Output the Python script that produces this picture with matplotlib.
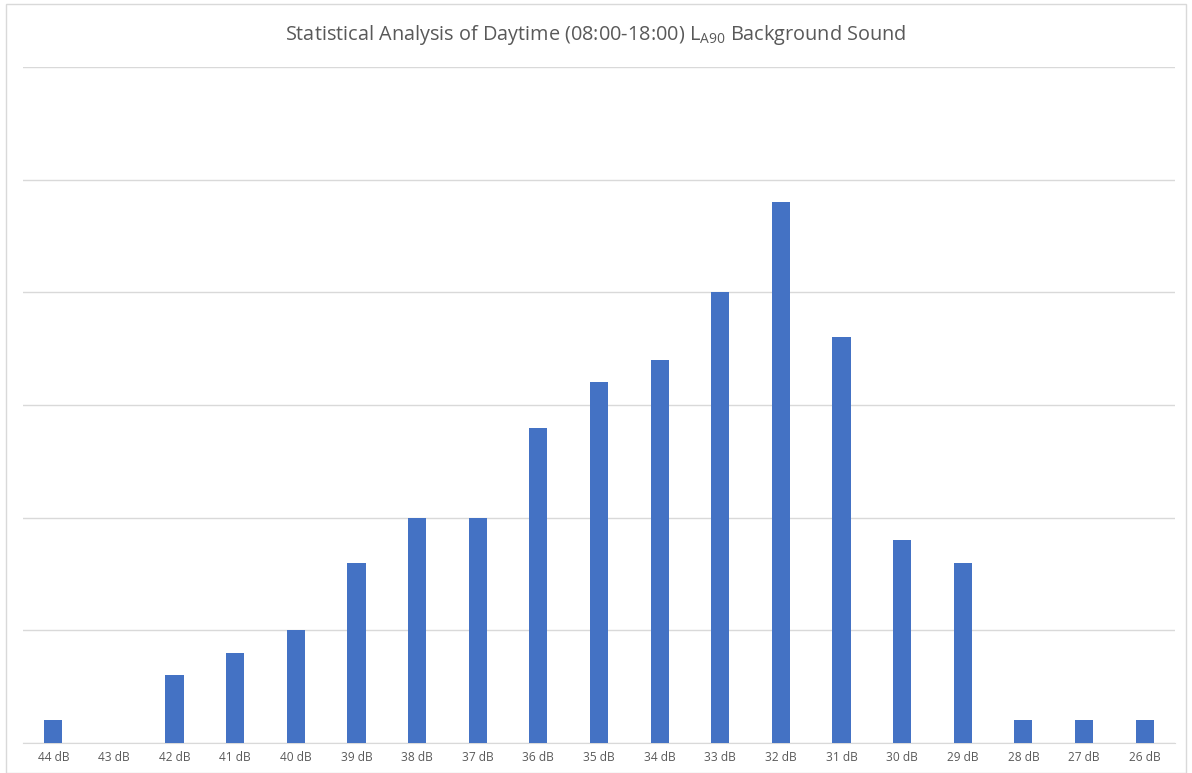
import matplotlib
matplotlib.use("Agg")
import matplotlib.pyplot as plt
from matplotlib.patches import Rectangle

categories = ["44 dB", "43 dB", "42 dB", "41 dB", "40 dB", "39 dB", "38 dB", "37 dB", "36 dB",
              "35 dB", "34 dB", "33 dB", "32 dB", "31 dB", "30 dB", "29 dB", "28 dB", "27 dB", "26 dB"]
counts = [1, 0, 3, 4, 5, 8, 10, 10, 14, 16, 17, 20, 24, 18, 9, 8, 1, 1, 1]

plt.rcParams['font.family'] = ['Open Sans', 'DejaVu Sans']

fig = plt.figure(figsize=(11.92, 7.73), dpi=100)
fig.patches.append(Rectangle((0.005, 0.0), 0.99, 0.995, transform=fig.transFigure,
                             fill=False, edgecolor="#d9d9d9", linewidth=1))
ax = fig.add_axes([0.0193, 0.0388, 0.9664, 0.8745])

x = range(len(categories))
ax.bar(x, counts, width=0.3, color="#4472c4", zorder=3)
ax.set_xlim(-0.5, len(categories) - 0.5)
ax.set_ylim(0, 30)
ax.set_yticks(range(0, 31, 5))
ax.set_yticklabels([])
ax.tick_params(axis='y', length=0)
ax.grid(axis='y', color="#d9d9d9", linewidth=1, zorder=0)
ax.set_xticks(list(x))
ax.set_xticklabels(categories, fontsize=8.6, color="#595959")
ax.tick_params(axis='x', length=0, pad=6)
for s in ["top", "right", "left"]:
    ax.spines[s].set_visible(False)
ax.spines["bottom"].set_color("#d9d9d9")

fig.text(0.5, 0.955, r"Statistical Analysis of Daytime (08:00-18:00) L$_{\mathregular{A90}}$ Background Sound",
         ha="center", va="center", fontsize=14.3, color="#595959")

fig.savefig("out.png", dpi=100)
